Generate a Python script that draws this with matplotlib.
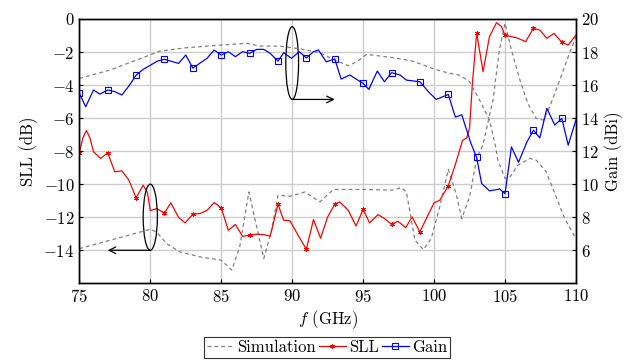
import numpy as np
import matplotlib
matplotlib.use("Agg")
import matplotlib.pyplot as plt
from matplotlib.patches import Ellipse

plt.rcParams['font.family'] = 'serif'
plt.rcParams['font.serif'] = ['cmr10', 'DejaVu Serif']
plt.rcParams['mathtext.fontset'] = 'cm'
plt.rcParams['axes.formatter.use_mathtext'] = True
plt.rcParams['font.size'] = 12

# measured SLL (dB)
sll_f = [75.0, 75.25, 75.5, 75.75, 76.0, 76.5, 77.0, 77.5, 78.0, 78.5, 79.0, 79.5, 79.8, 80.0, 80.45,
         81.0, 81.45, 82.0, 82.45, 83.0, 83.5, 84.0, 84.5, 85.0, 85.5, 86.0, 86.5,
         87.0, 87.5, 88.0, 88.45, 89.0, 89.4, 89.85, 90.35, 91.0, 91.5, 92.0, 92.5,
         93.0, 93.35, 93.95, 94.5, 95.0, 95.45, 96.05, 96.5, 97.0, 97.45, 98.0, 98.45,
         99.0, 99.45, 100.0, 100.4, 101.0, 101.5, 102.0, 102.3, 102.5, 102.7, 103.0,
         103.45, 103.9, 104.4, 104.75, 105.0, 105.8, 106.45, 107.0, 107.45, 107.95,
         108.45, 109.0, 109.45, 110.0]
sll_db = [-8.10, -7.2, -6.75, -7.2, -8.04, -8.44, -8.10, -9.25, -9.19, -9.76, -10.83, -10.06, -10.5, -11.6, -11.48,
          -11.74, -11.13, -12.02, -12.34, -11.82, -11.78, -11.58, -11.11, -11.43, -12.79, -12.44, -13.15,
          -13.09, -13.03, -13.05, -13.15, -11.21, -12.18, -12.22, -12.99, -13.94, -12.14, -13.27, -11.98,
          -11.21, -11.07, -11.58, -12.53, -11.52, -12.34, -11.84, -12.08, -12.42, -12.24, -12.63, -11.98,
          -12.89, -12.08, -11.13, -10.97, -10.10, -8.8, -7.35, -7.2, -6.6, -3.9, -0.85,
          -3.19, -1.07, -0.22, -0.46, -0.99, -1.13, -1.37, -0.57, -0.67, -1.17,
          -0.87, -1.41, -1.58, -0.97]

# measured gain (dBi)
gain_f = [75.0, 75.45, 76.0, 76.45, 77.0, 77.5, 78.0, 78.5, 79.0, 79.5, 80.0, 80.5, 81.0, 82.0, 82.5, 83.0,
          84.0, 84.5, 85.0, 85.5, 86.0, 86.5, 87.0, 87.5, 88.0, 88.45, 89.0, 89.4, 89.95,
          90.5, 91.0, 91.5, 91.85, 92.4, 93.0, 93.45, 94.05, 95.0, 95.4, 96.0, 96.5, 97.0,
          97.6, 98.05, 99.0, 99.6, 100.15, 101.0, 101.5, 101.95, 102.6, 103.0, 103.35,
          103.9, 104.5, 104.6, 105.0, 105.45, 105.95, 106.55, 107.0, 107.45, 107.95,
          108.5, 109.0, 109.45, 110.0]
gain_dbi = [15.5, 14.69, 15.7, 15.45, 15.7, 15.6, 15.4, 15.95, 16.6, 16.95, 17.2, 17.45, 17.56, 17.31, 17.82, 17.03,
            17.62, 18.12, 17.82, 18.02, 17.72, 18.02, 17.92, 18.16, 18.16, 17.92, 17.45, 17.96, 17.62,
            18.02, 17.64, 18.02, 18.12, 17.41, 17.58, 16.36, 16.61, 16.10, 15.74, 16.85, 16.2, 16.75,
            16.61, 16.3, 16.2, 15.6, 15.13, 15.43, 14.06, 14.2, 12.46, 11.62, 10.04,
            9.6, 9.68, 9.72, 9.43, 12.26, 11.33, 12.57, 13.27, 12.8, 14.59,
            13.58, 13.98, 12.36, 13.9]

# simulated gain (dBi)
gain_sim_f = [75.0, 77.15, 79.05, 80.7, 82.55, 84.65, 86.8, 87.7, 89.1, 90.5, 91.95, 92.9,
              93.95, 94.55, 95.25, 97.1, 98.5, 99.9, 100.9, 101.8, 102.5, 103.2, 103.9, 104.3,
              104.5, 105.0, 105.35, 105.9, 106.75, 107.2, 107.9, 108.6, 109.2, 110.0]
gain_sim_dbi = [16.4, 16.91, 17.52, 18.06, 18.26, 18.4, 18.53, 18.36, 18.36, 18.2, 17.96, 17.56,
                17.17, 17.41, 17.86, 17.66, 17.45, 17.0, 16.75, 16.6, 16.2, 15.1, 13.9, 12.4,
                11.45, 10.34, 10.44, 11.15, 11.56, 11.45, 10.75, 9.23, 7.92, 6.7]

# simulated SLL (dB)
sll_sim_f = [75.0, 80.0, 80.45, 81.15, 82.1, 83.5, 85.0, 85.75, 86.3, 86.95, 87.5, 88.0, 88.55,
             89.0, 89.85, 90.9, 91.95, 92.9, 95.0, 97.1, 97.7, 98.05, 98.65, 99.25, 99.8, 100.4,
             101.0, 101.55, 101.95, 102.5, 103.0, 103.45, 104.15, 104.6, 105.0, 105.45, 106.05,
             106.6, 107.2, 107.7, 108.15, 108.85, 109.45, 110.0]
sll_sim_db = [-13.9, -12.73, -12.89, -13.6, -14.1, -14.4, -14.6, -15.2, -13.8, -10.47, -12.59, -14.5, -12.79,
              -10.67, -10.73, -10.47, -11.07, -10.32, -10.32, -10.36, -10.2, -10.47, -13.39, -13.96, -13.29, -11.37,
              -9.1, -10.57, -12.08, -10.77, -8.44, -7.6, -4.9, -1.88, -0.25, -1.88, -3.7,
              -5.11, -6.02, -6.12, -5.31, -3.7, -2.28, -1.07]


def mark_idx(f):
    # markers sit on every second GHz starting at 75
    return [i for i, v in enumerate(f) if abs((v - 75) / 2 - round((v - 75) / 2)) < 1e-6]


fig = plt.figure(figsize=(6.35, 3.61), dpi=100)
ax = fig.add_axes([0.1249, 0.2152, 0.9071 - 0.1249, 0.9474 - 0.2152])
ax2 = ax.twinx()

sim_col = (0.5, 0.5, 0.5)
ax.plot(sll_sim_f, sll_sim_db, '--', color=sim_col, lw=0.9, dashes=(3, 2.5))
l_sim, = ax2.plot(gain_sim_f, gain_sim_dbi, '--', color=sim_col, lw=0.9, dashes=(3, 2.5),
                  label='Simulation')
l_sll, = ax.plot(sll_f, sll_db, '-', color='red', lw=0.9, marker=(6, 2, 0), ms=3.5,
                 markevery=mark_idx(sll_f), mew=0.7, label='SLL')
l_gain, = ax2.plot(gain_f, gain_dbi, '-', color='blue', lw=0.9, marker='s', ms=4.5,
                   mfc='none', mew=0.8, markevery=mark_idx(gain_f), label='Gain')

# ellipses + arrows
ax.add_patch(Ellipse((90, -2.67), 0.9, 4.4, fill=False, ec='black', lw=0.9, zorder=5))
ax.annotate('', xy=(93, -4.87), xytext=(90, -4.87),
            arrowprops=dict(arrowstyle='->', color='black', lw=0.9, shrinkA=0, shrinkB=0))
ax.add_patch(Ellipse((80, -12.0), 1.0, 4.0, fill=False, ec='black', lw=0.9, zorder=5))
ax.annotate('', xy=(77, -14.0), xytext=(80, -14.0),
            arrowprops=dict(arrowstyle='->', color='black', lw=0.9, shrinkA=0, shrinkB=0))

ax.set_xlim(75, 110)
ax.set_ylim(-16, 0)
ax2.set_ylim(4, 20)
ax.set_xticks(np.arange(75, 111, 5))
ax.set_yticks(np.arange(-14, 1, 2))
ax2.set_yticks(np.arange(6, 21, 2))
ax.grid(True, color=(0.8, 0.8, 0.8), lw=1)
ax.set_axisbelow(True)
ax.tick_params(direction='in', length=3, labelsize=12)
ax2.tick_params(direction='in', length=3, labelsize=12)
for a in (ax, ax2):
    for s in a.spines.values():
        s.set_linewidth(1.0)

ax.set_xlabel('$f$ (GHz)', fontsize=12, labelpad=2)
ax.set_ylabel('SLL (dB)', fontsize=12, labelpad=4)
ax2.set_ylabel('Gain (dBi)', fontsize=12, labelpad=4)

leg = fig.legend([l_sim, l_sll, l_gain], ['Simulation', 'SLL', 'Gain'],
                 loc='center', bbox_to_anchor=(0.515, 0.037), ncol=3, fontsize=12,
                 frameon=True, fancybox=False, edgecolor='black', handlelength=1.6,
                 handletextpad=0.2, columnspacing=0.2, borderpad=0.15, borderaxespad=0)
leg.get_frame().set_linewidth(0.8)

fig.savefig('out.png', dpi=100)
